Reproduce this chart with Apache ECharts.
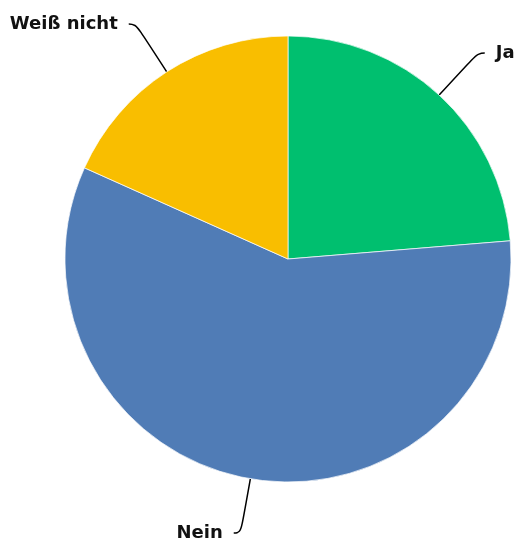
<!DOCTYPE html>
<html><head><meta charset="utf-8">
<script src="https://cdn.jsdelivr.net/npm/echarts@6/dist/echarts.min.js"></script>
<style>html,body{margin:0;padding:0;background:#fff}#c{width:523px;height:543px}</style>
</head><body><div id="c"></div>
<script>
const categories = ["Ja", "Nein", "Weiß nicht"];
const values = [23.7, 58.0, 18.3];
const colors = ["#00BF6F", "#507CB6", "#F9BE00"];

const chart = echarts.init(document.getElementById('c'), null, {renderer: 'canvas'});
chart.setOption({
  animation: false,
  series: [{
    type: 'pie',
    center: [288, 259],
    radius: [0, 223],
    startAngle: 90,
    clockwise: true,
    data: categories.map((n, i) => ({name: n, value: values[i], itemStyle: {color: colors[i]}})),
    itemStyle: {borderColor: '#fff', borderWidth: 0.7},
    label: {
      show: true,
      formatter: '{b}',
      color: '#111',
      fontFamily: '"DejaVu Sans", sans-serif',
      fontWeight: 'bold',
      fontSize: 18,
      overflow: 'none',
      distanceToLabelLine: 11
    },
    labelLine: {
      show: true,
      length: 57,
      length2: 7,
      smooth: 0.5,
      lineStyle: {color: '#000', width: 1.5}
    }
  }]
});
</script></body></html>
